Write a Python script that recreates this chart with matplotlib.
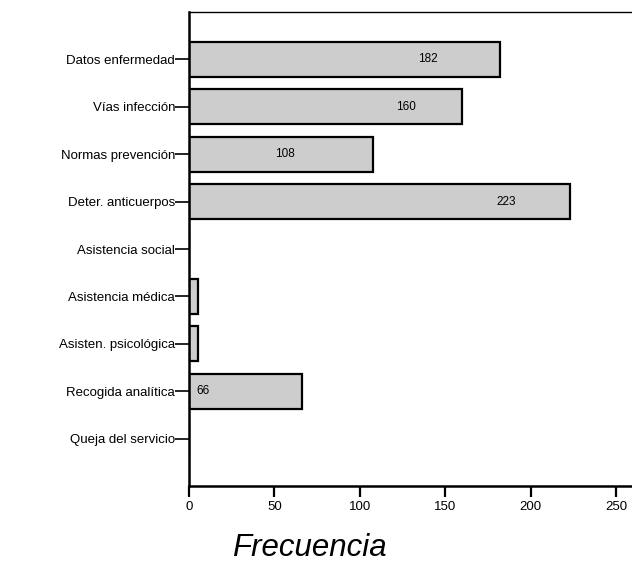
import matplotlib
matplotlib.use("Agg")
import matplotlib.pyplot as plt

# Categories (top to bottom) and their frequencies
categories = [
    "Datos enfermedad",
    "Vías infección",
    "Normas prevención",
    "Deter. anticuerpos",
    "Asistencia social",
    "Asistencia médica",
    "Asisten. psicológica",
    "Recogida analítica",
    "Queja del servicio",
]
frequencies = [182, 160, 108, 223, 0, 5, 5, 66, 0]

# Which bars carry a value label, and where the label is centred along x
labelled = [True, True, True, True, False, False, False, True, False]
label_x = [140, 127, 56, 186, None, None, None, 8, None]

xticks = [0, 50, 100, 150, 200, 250]

plt.rcParams["font.family"] = ["Liberation Sans", "DejaVu Sans"]

fig = plt.figure(figsize=(6.32, 5.63), dpi=100)
ax = fig.add_axes([189 / 632, 1 - 486 / 563, 1 - 189 / 632, (486 - 12) / 563])

positions = list(range(1, len(categories) + 1))
ax.barh(positions, frequencies, height=0.74, color="#cdcdcd",
        edgecolor="black", linewidth=1.6, zorder=2)

for pos, val, show, lx in zip(positions, frequencies, labelled, label_x):
    if show:
        ax.text(lx, pos, str(val), ha="center", va="center", fontsize=8.5, zorder=3)

ax.set_ylim(len(categories) + 1, 0)
ax.set_xlim(0, 259.4)
ax.set_yticks(positions)
ax.set_yticklabels(categories, fontsize=9.5)
ax.set_xticks(xticks)
ax.set_xticklabels([str(t) for t in xticks], fontsize=9.5)

ax.tick_params(axis="y", length=10, width=1.2, pad=0)
ax.tick_params(axis="x", length=8, width=1.6, pad=3)

ax.spines["right"].set_visible(False)
ax.spines["left"].set_linewidth(1.8)
ax.spines["bottom"].set_linewidth(1.8)
ax.spines["top"].set_linewidth(1.0)

ax.set_xlabel("Frecuencia", fontsize=22.5, style="italic")
ax.xaxis.set_label_coords(0.271, -0.1)

fig.savefig("out.png", dpi=100)
